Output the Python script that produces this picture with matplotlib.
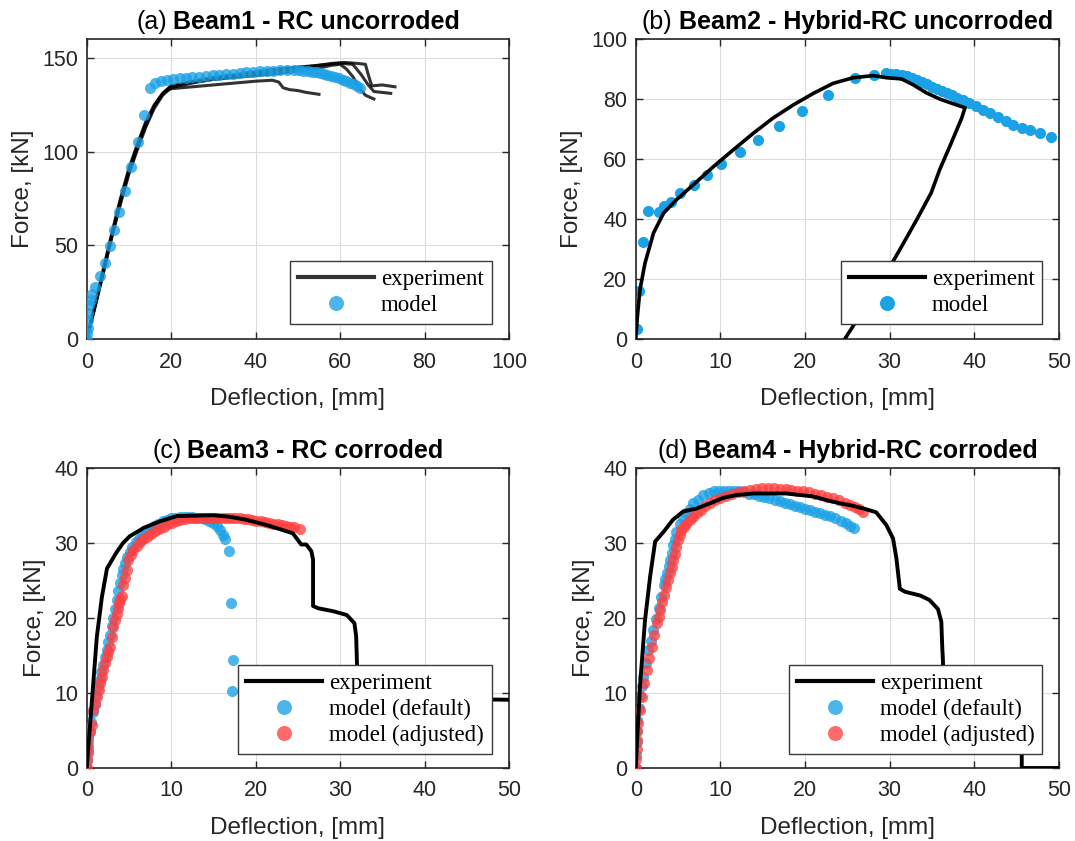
import matplotlib
matplotlib.use("Agg")
import matplotlib.pyplot as plt
import matplotlib.transforms as mtransforms
from matplotlib.lines import Line2D

plt.rcParams["font.family"] = ["Liberation Sans", "DejaVu Sans"]

# ---------------------------------------------------------------- data
# (a) Beam1 - RC uncorroded: four test curves and the model
a_exp1_x = [0, 2, 4, 6, 8, 10, 12, 14, 15.5, 17, 18.5, 20, 25, 30, 35, 40, 44, 45.5, 46.5, 48, 50, 52, 55]
a_exp1_y = [0, 18, 37, 56, 74, 90, 103, 115, 122, 128, 132, 133.5, 134.5, 135.5, 136.5, 137.5, 138, 137, 134, 133, 132.5, 131.5, 130.5]
a_exp2_x = [0, 2, 4, 6, 8, 10, 12, 14, 16, 18, 20, 25, 30, 35, 40, 45, 50, 55, 58, 61, 64, 66, 66.8, 67.5, 70, 73]
a_exp2_y = [0, 17, 36, 55, 72, 88, 101, 113, 123, 130, 134, 136.5, 138.5, 140, 141.5, 143, 144.5, 146, 147, 147.5, 147, 146.5, 140, 135, 135.5, 134.5]
a_exp3_x = [0, 2, 4, 6, 8, 10, 12, 14, 16, 18, 20, 25, 30, 35, 40, 45, 50, 55, 58, 60, 61.5, 63, 64.5, 66, 68]
a_exp3_y = [0, 19, 38, 57, 75, 91, 104, 116, 125, 131, 135, 137, 138.5, 139.5, 140.5, 141.5, 143, 144.5, 146, 146.5, 144, 140, 134, 130, 128]
a_exp4_x = [0, 2, 4, 6, 8, 10, 12, 14, 16, 18, 20, 25, 30, 35, 40, 45, 50, 55, 60, 63, 65, 66.5, 68, 70, 72]
a_exp4_y = [0, 18, 36, 55, 73, 89, 102, 114, 124, 131, 135, 137.5, 139.5, 141, 142.5, 144, 145, 146, 147, 146.5, 141, 136, 132, 131.5, 131]
a_mod_x = [0, 0.1, 0.2, 0.3, 0.4, 0.6, 0.9, 1.3, 2.0, 3.2, 4.3, 5.5, 6.5, 7.7, 9.1, 10.5, 12.2, 13.6,
           15.0, 16.2, 17.6, 19.0, 20.5, 22.0, 23.5, 25.0, 26.6, 28.2, 29.8, 31.4, 33.0, 34.6, 36.2,
           37.8, 39.4, 41.0, 42.6, 44.2, 45.8, 47.4, 49.0, 50.2, 51.3, 52.3, 53.3, 54.3, 55.2, 56.1,
           57.0, 57.9, 58.8, 59.7, 60.6, 61.5, 62.4, 63.2, 64.0, 64.7]
a_mod_y = [0, 3, 6, 10, 14, 18, 21, 24, 28, 33.5, 40.5, 49.5, 58.4, 68, 78.8, 92, 105, 119.4,
           133.8, 136.7, 137.5, 138.2, 138.6, 139.0, 139.4, 139.7, 140.0, 140.3, 140.6, 141.0, 141.3,
           141.6, 141.9, 142.2, 142.5, 142.7, 142.9, 143.1, 143.3, 143.4, 143.4, 143.3, 143.1, 142.9,
           142.6, 142.2, 141.8, 141.3, 140.8, 140.2, 139.6, 139.0, 138.3, 137.6, 136.8, 136.0, 135.0, 134.0]

# (b) Beam2 - Hybrid-RC uncorroded
b_exp_x = [0, 0.2, 0.5, 1.1, 2.1, 3.3, 4.8, 6.8, 9.2, 11.5, 13.9, 16.2, 18.6, 21, 23.3, 25.7, 28.1, 29.6,
           31.4, 32.8, 34.3, 35.9, 37.1, 38.9, 38.5, 37.1, 35.9, 34.9, 33.2, 31.2, 29.6, 27.3, 25.9, 24.7]
b_exp_y = [0, 7.5, 16.4, 25.3, 35.3, 42, 46.4, 51.4, 57.5, 63, 68.6, 73.6, 78, 81.9, 85.2, 87.1, 87.8, 87.1,
           86.7, 84.7, 82.1, 80, 78.8, 77.1, 73.6, 64.2, 56.4, 48.7, 39.8, 29.8, 22, 10.9, 5.3, 0]
b_mod_x = [0.1, 0.4, 0.9, 1.5, 2.7, 3.3, 4.2, 5.2, 6.9, 8.4, 10.1, 12.3, 14.5, 16.9, 19.7, 22.7, 25.9, 28.1,
           29.6, 30.2, 30.8, 31.4, 32.0, 32.6, 33.2, 33.8, 34.4, 35.0, 35.6, 36.2, 36.8, 37.4, 38.0, 38.7,
           39.4, 40.2, 41.0, 41.9, 42.8, 43.7, 44.6, 45.6, 46.6, 47.8, 49.1]
b_mod_y = [3.4, 15.9, 32.4, 42.7, 42.2, 44.2, 45.8, 48.6, 51.4, 54.7, 58.4, 62.3, 66.4, 71.1, 76.1, 81.2, 86.9,
           88.0, 88.6, 88.5, 88.3, 88.0, 87.6, 87.0, 86.3, 85.6, 84.9, 84.1, 83.4, 82.7, 82.0, 81.3, 80.5,
           79.7, 78.7, 77.6, 76.3, 75.2, 73.9, 72.7, 71.4, 70.4, 69.6, 68.6, 67.5]

# (c) Beam3 - RC corroded
c_exp_x = [0, 0.6, 1.2, 1.8, 2.4, 3.5, 4.3, 5.1, 6.3, 6.7, 8.7, 10.7, 11, 15, 16.9, 18.9, 21.3, 24.4, 25, 25.4,
           26, 26.6, 26.8, 26.8, 27.4, 29.2, 30.8, 31.7, 31.9, 32.0, 32.0, 50]
c_exp_y = [0, 8.7, 17.5, 22.8, 26.6, 28.7, 30.0, 30.9, 31.7, 32, 32.9, 33.6, 33.6, 33.7, 33.5, 33.1, 32.4, 31.3,
           30.4, 29.8, 29.8, 28.9, 27.8, 21.6, 21.3, 20.9, 20.4, 19.3, 17.6, 14, 9.4, 9.1]
c_def_x = [0, 0.05, 0.1, 0.2, 0.35, 0.55, 0.75, 0.95, 1.15, 1.35, 1.55, 1.75, 1.95, 2.15, 2.35, 2.55, 2.75,
           2.95, 3.15, 3.35, 3.55, 3.75, 3.95, 4.15, 4.35, 4.55, 4.8, 5.1, 5.4, 5.8, 6.2, 6.6, 7.0, 7.5,
           8.0, 8.5, 9.0, 9.5, 10.0, 10.5, 11.0, 11.5, 12.0, 12.5, 13.0, 13.5, 14.0, 14.5, 15.0, 15.4,
           15.8, 16.1, 16.4, 16.85, 17.1, 17.36, 17.25]
c_def_y = [0, 1.2, 2.4, 3.6, 4.8, 6.2, 7.5, 8.6, 9.7, 10.8, 11.8, 12.8, 13.8, 14.8, 15.8, 16.8, 17.8,
           18.9, 20.0, 21.2, 22.4, 23.6, 24.7, 25.7, 26.6, 27.4, 28.1, 28.8, 29.5, 30.1, 30.6, 31.1, 31.5,
           31.9, 32.3, 32.6, 32.9, 33.1, 33.3, 33.4, 33.5, 33.5, 33.5, 33.5, 33.4, 33.3, 33.2, 33.0, 32.7,
           32.3, 31.7, 31.1, 30.6, 28.9, 22.0, 14.4, 10.3]
c_adj_x = [0, 0.05, 0.1, 0.15, 0.2, 0.4, 0.6, 0.78, 1.0, 1.18, 1.4, 1.58, 1.78, 1.97, 2.17, 2.37, 2.56, 2.76,
           2.96, 3.16, 3.35, 3.55, 3.7, 3.87, 4.0, 4.14, 4.34, 4.54, 4.74, 4.93, 5.2, 5.5, 5.9, 6.3, 6.7,
           7.1, 7.6, 8.1, 8.6, 9.1, 9.6, 10.1, 10.6, 11.1, 11.6, 12.1, 12.6, 13.1, 13.6, 14.1, 14.6, 15.1,
           15.6, 16.1, 16.6, 17.1, 17.6, 18.1, 18.6, 19.1, 19.6, 20.1, 20.6, 21.1, 21.6, 22.1, 22.6, 23.1,
           23.6, 24.1, 24.6, 25.2]
c_adj_y = [0, 1, 2, 3, 4.2, 5, 5.8, 7.7, 8.6, 9.5, 10.4, 11.3, 12.2, 13.1, 14.0, 14.8, 15.5, 16.2,
           17.5, 18.8, 19.7, 20.6, 21.3, 22, 22.5, 22.9, 24.4, 25.4, 26.4, 27.7, 28.4, 29.1, 29.6, 30.1, 30.5,
           30.8, 31.2, 31.6, 31.9, 32.2, 32.5, 32.7, 32.9, 33.1, 33.2, 33.3, 33.3, 33.4, 33.4, 33.4, 33.4, 33.4,
           33.4, 33.4, 33.4, 33.4, 33.3, 33.3, 33.2, 33.2, 33.1, 33.0, 32.9, 32.8, 32.7, 32.6, 32.5, 32.4,
           32.3, 32.2, 32.1, 31.9]

# (d) Beam4 - Hybrid-RC corroded
d_exp_x = [0, 0.5, 1.1, 1.7, 2.3, 3.3, 4.4, 5.6, 7.2, 8.8, 10.3, 11.9, 13.9, 17.8, 21, 22.6, 24.1, 25.5,
           26.9, 28.4, 29.6, 30.4, 30.8, 31.2, 31.8, 33.6, 34.7, 35.7, 36.1, 36.2, 36.3, 36.3, 45.6, 45.6, 50]
d_exp_y = [0, 10.8, 19.7, 25.5, 30.2, 31.5, 33.1, 34.2, 34.6, 35.3, 36, 36.4, 36.6, 36.6, 36.2, 35.7, 35.3, 35.0,
           34.6, 34.1, 32.4, 30.6, 27.9, 23.9, 23.5, 23, 22.4, 21.2, 19.5, 16.4, 14.1, 2.5, 2.5, 0, 0]
d_def_x = [0, 0.05, 0.1, 0.15, 0.2, 0.35, 0.5, 0.7, 0.9, 1.2, 1.5, 1.8, 2.1, 2.4, 2.7, 3.0, 3.3, 3.5, 3.7,
           3.9, 4.05, 4.25, 4.4, 4.6, 4.8, 5.2, 5.6, 6.0, 6.4, 6.8, 7.4, 8.0, 8.6, 9.2, 9.8, 10.4, 11.0,
           11.6, 12.2, 12.8, 13.4, 14.0, 14.6, 15.2, 15.8, 16.4, 17.0, 17.6, 18.2, 18.8, 19.4, 20.0, 20.6,
           21.2, 21.8, 22.4, 23.0, 23.6, 24.2, 24.8, 25.3, 25.8]
d_def_y = [0, 1.8, 3.5, 5, 6.4, 8, 9.6, 11, 12.2, 14, 15.7, 17, 18.4, 19.9, 21.3, 22.8, 24.4, 25.2, 26,
           26.9, 27.7, 28.7, 29.7, 30.6, 31.5, 32.5, 33.3, 34.0, 34.6, 35.3, 35.8, 36.4, 36.7, 36.9, 37.0,
           37.0, 37.0, 37.0, 36.9, 36.8, 36.6, 36.5, 36.3, 36.2, 36.0, 35.8, 35.6, 35.4, 35.2, 35.0, 34.8,
           34.6, 34.4, 34.2, 34.0, 33.8, 33.6, 33.3, 33.0, 32.7, 32.3, 32.0]
d_adj_x = [0, 0.05, 0.1, 0.15, 0.2, 0.3, 0.5, 0.7, 1.0, 1.3, 1.6, 1.9, 2.2, 2.5, 2.7, 2.9, 3.1, 3.3, 3.6,
           3.85, 4.05, 4.25, 4.45, 4.6, 4.8, 5.0, 5.2, 5.4, 5.7, 6.0, 6.4, 6.8, 7.2, 7.7, 8.2, 8.8, 9.4,
           10.0, 10.7, 11.4, 12.1, 12.8, 13.5, 14.2, 14.9, 15.6, 16.3, 17.0, 17.7, 18.4, 19.1, 19.8, 20.5,
           21.2, 21.9, 22.6, 23.3, 24.0, 24.7, 25.3, 25.9, 26.4, 26.9]
d_adj_y = [0, 1.2, 2.5, 3.8, 5, 6, 7.8, 9.5, 11.3, 13.1, 14.7, 16.2, 17.8, 19.3, 20.2, 21.1, 22.1, 23.1, 24.1,
           25.1, 26, 26.8, 27.7, 28.6, 29.5, 30.4, 31.1, 31.7, 32.2, 32.6, 33.1, 33.5, 34.0, 34.4, 34.9, 35.3,
           35.7, 36.0, 36.3, 36.6, 36.8, 37.0, 37.1, 37.2, 37.3, 37.3, 37.3, 37.2, 37.2, 37.1, 37.0, 36.9,
           36.8, 36.6, 36.4, 36.2, 36.0, 35.7, 35.4, 35.1, 34.8, 34.5, 34.2]

titles = [("(a)", "Beam1 - RC uncorroded"), ("(b)", "Beam2 - Hybrid-RC uncorroded"),
          ("(c)", "Beam3 - RC corroded"), ("(d)", "Beam4 - Hybrid-RC corroded")]

# ---------------------------------------------------------------- style
BLUE = "#1AA1E6"
RED = "#FF4040"
INK = "#262626"
MS = 8.0
SERIF = {"family": ["Liberation Serif", "DejaVu Serif"], "size": 16.5}

fig = plt.figure(figsize=(10.75, 8.41), dpi=100)
W, H = 1075, 841


def make_axes(left, top, right, bottom):
    return fig.add_axes([left / W, (H - bottom) / H, (right - left) / W, (bottom - top) / H])


ax_a = make_axes(86.7, 39, 509, 339)
ax_b = make_axes(635.7, 39, 1059, 339)
ax_c = make_axes(86.7, 468, 509, 768)
ax_d = make_axes(635.7, 468, 1059, 768)


def style(ax, xlim, ylim, xticks, yticks):
    ax.set_xlim(xlim)
    ax.set_ylim(ylim)
    ax.set_xticks(xticks)
    ax.set_yticks(yticks)
    ax.grid(True, color="#DCDCDC", lw=0.8)
    ax.set_axisbelow(True)
    ax.tick_params(direction="in", top=True, right=True, length=5, width=1.0,
                   colors=INK, labelsize=15.5)
    ax.tick_params(axis="x", pad=9)
    ax.tick_params(axis="y", pad=6)
    for s in ax.spines.values():
        s.set_color(INK)
        s.set_linewidth(1.2)
    ax.set_xlabel("Deflection, [mm]", fontsize=17.5, color=INK, labelpad=11)
    ax.set_ylabel("Force, [kN]", fontsize=17.5, color=INK, labelpad=6)


def model(ax, x, y, color, alpha, z):
    ax.plot(x, y, ls="none", marker="o", ms=MS, mew=0, color=color, alpha=alpha, zorder=z)


# (a)
for ex, ey in [(a_exp1_x, a_exp1_y), (a_exp2_x, a_exp2_y), (a_exp3_x, a_exp3_y), (a_exp4_x, a_exp4_y)]:
    ax_a.plot(ex, ey, color="black", lw=2.2, alpha=0.8, zorder=2)
model(ax_a, a_mod_x, a_mod_y, BLUE, 0.78, 3)
style(ax_a, (0, 100), (0, 160), range(0, 101, 20), range(0, 151, 50))

# (b)
model(ax_b, b_mod_x, b_mod_y, BLUE, 1.0, 2)
ax_b.plot(b_exp_x, b_exp_y, color="black", lw=2.6, zorder=3)
style(ax_b, (0, 50), (0, 100), range(0, 51, 10), range(0, 101, 20))

# (c)
model(ax_c, c_def_x, c_def_y, BLUE, 0.78, 2)
model(ax_c, c_adj_x, c_adj_y, RED, 0.78, 3)
ax_c.plot(c_exp_x, c_exp_y, color="black", lw=2.8, zorder=4)
style(ax_c, (0, 50), (0, 40), range(0, 51, 10), range(0, 41, 10))

# (d)
model(ax_d, d_def_x, d_def_y, BLUE, 0.78, 2)
model(ax_d, d_adj_x, d_adj_y, RED, 0.78, 3)
ax_d.plot(d_exp_x, d_exp_y, color="black", lw=2.8, zorder=4)
style(ax_d, (0, 50), (0, 40), range(0, 51, 10), range(0, 41, 10))


# ---------------------------------------------------------------- legends
def legend(ax, handles, labels, anchor):
    leg = ax.legend(handles, labels, loc="lower right", bbox_to_anchor=anchor, prop=SERIF,
                    frameon=True, fancybox=False, framealpha=1, edgecolor="#3a3a3a",
                    borderaxespad=0, borderpad=0.35, handlelength=3.3, handletextpad=0.3,
                    labelspacing=0.2)
    leg.get_frame().set_linewidth(1.0)
    leg.set_zorder(10)


def exp_handle(alpha=1.0):
    return Line2D([], [], color="black", lw=3, alpha=alpha)


def mod_handle(color, alpha):
    return Line2D([], [], ls="none", marker="o", ms=10.8, mew=0, color=color, alpha=alpha)


legend(ax_a, [exp_handle(0.8), mod_handle(BLUE, 0.78)], ["experiment", "model"], (0.959, 0.05))
legend(ax_b, [exp_handle(), mod_handle(BLUE, 1.0)], ["experiment", "model"], (0.961, 0.05))
legend(ax_c, [exp_handle(), mod_handle(BLUE, 0.78), mod_handle(RED, 0.78)],
       ["experiment", "model (default)", "model (adjusted)"], (0.959, 0.047))
legend(ax_d, [exp_handle(), mod_handle(BLUE, 0.78), mod_handle(RED, 0.78)],
       ["experiment", "model (default)", "model (adjusted)"], (0.961, 0.047))

# ---------------------------------------------------------------- titles
renderer = fig.canvas.get_renderer()
for ax, (tag, name) in zip([ax_a, ax_b, ax_c, ax_d], titles):
    t1 = ax.text(0, 0, tag, fontsize=18, color="black")
    t2 = ax.text(0, 0, name, fontsize=18, fontweight="bold", color="black")
    gap = 6
    w1 = t1.get_window_extent(renderer).width
    w2 = t2.get_window_extent(renderer).width
    start = -(w1 + gap + w2) / 2
    t1.set_transform(mtransforms.offset_copy(ax.transAxes, fig, x=start, y=10, units="dots"))
    t1.set_position((0.5, 1.0))
    t1.set_va("baseline")
    t2.set_transform(mtransforms.offset_copy(ax.transAxes, fig, x=start + w1 + gap, y=10, units="dots"))
    t2.set_position((0.5, 1.0))
    t2.set_va("baseline")

fig.savefig("out.png", dpi=100)
